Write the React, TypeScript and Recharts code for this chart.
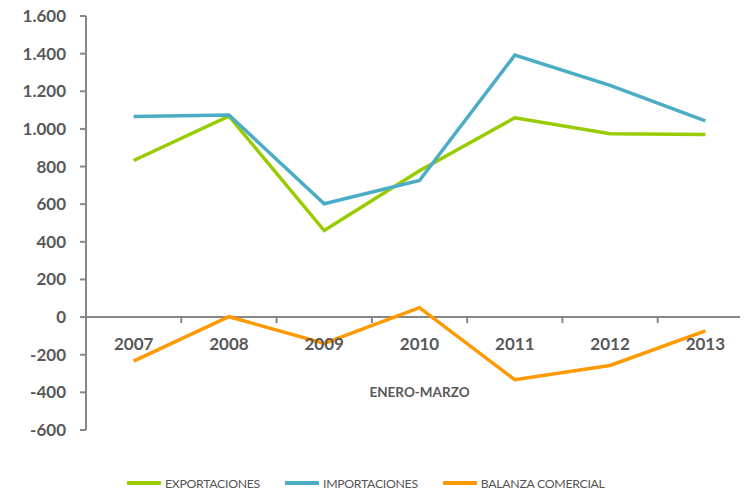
import React from 'react';
import { LineChart, Line, XAxis, YAxis, ReferenceLine, Label, LabelList, Legend } from 'recharts';

const years = ['2007', '2008', '2009', '2010', '2011', '2012', '2013'];
const exportaciones = [832, 1068, 460, 778, 1059, 974, 970];
const importaciones = [1066, 1074, 602, 726, 1392, 1231, 1043];
const balanza = [-234, 2, -140, 50, -333, -257, -73];
const yTicks = [-600, -400, -200, 0, 200, 400, 600, 800, 1000, 1200, 1400, 1600];
const seriesNames = ['EXPORTACIONES', 'IMPORTACIONES', 'BALANZA COMERCIAL'];
const seriesColors = ['#99CC00', '#4BACC6', '#FF9900'];
const axisTitle = 'ENERO-MARZO';
const axisBase = years.map(() => 0); // anchors for the category labels on the zero line

const data = years.map((y, i) => ({
  year: y,
  exp: exportaciones[i],
  imp: importaciones[i],
  bal: balanza[i],
  base: axisBase[i],
}));

const CHART_W = 745;
const CHART_H = 482;
const Y_W = 78;
const MARGIN = { top: 8, right: 0, left: 0, bottom: 40 };
const BAND = (CHART_W - Y_W - MARGIN.left - MARGIN.right) / years.length;
const GRAY = '#868686';
const TEXT = '#595959';
const FONT = 'Lato, "Open Sans", sans-serif';

const fmt = (v: number) => {
  const s = Math.abs(v).toString().replace(/\B(?=(\d{3})+(?!\d))/g, '.');
  return (v < 0 ? '-' : '') + s;
};

const YearLabel = (props: any) => {
  const { x, y, value, index } = props;
  return (
    <g>
      {index > 0 && (
        <line x1={x - BAND / 2} x2={x - BAND / 2} y1={y} y2={y + 6} stroke={GRAY} strokeWidth={2} />
      )}
      <text x={x} y={y + 32.5} textAnchor="middle" fill={TEXT} fontFamily={FONT} fontWeight={700} fontSize={17}>
        {value}
      </text>
    </g>
  );
};

const LegendContent = () => (
  <div
    style={{
      display: 'flex',
      alignItems: 'center',
      height: 20,
      paddingLeft: 119,
      fontFamily: FONT,
      fontSize: 12.3,
      letterSpacing: -0.3,
      color: '#555555',
      whiteSpace: 'nowrap',
    }}
  >
    {seriesNames.map((n, i) => (
      <div key={n} style={{ display: 'flex', alignItems: 'center', marginRight: 25 }}>
        <svg width={34} height={6} style={{ marginRight: 4 }}>
          <line x1={1} x2={33} y1={3} y2={3} stroke={seriesColors[i]} strokeWidth={4} strokeLinecap="round" />
        </svg>
        <span>{n}</span>
      </div>
    ))}
  </div>
);

export default function App() {
  return (
    <div style={{ width: 740, height: CHART_H, overflow: 'hidden' }}>
      <LineChart width={CHART_W} height={CHART_H} data={data} margin={MARGIN}>
        <XAxis dataKey="year" hide scale="band" />
        <YAxis
          width={Y_W}
          domain={[-600, 1600]}
          ticks={yTicks}
          interval={0}
          tickFormatter={fmt}
          axisLine={{ stroke: GRAY, strokeWidth: 2 }}
          tickLine={{ stroke: GRAY, strokeWidth: 2 }}
          tickSize={6}
          tickMargin={14}
          tick={{ fill: TEXT, fontFamily: FONT, fontWeight: 700, fontSize: 17 }}
        />
        <ReferenceLine y={0} stroke={GRAY} strokeWidth={2}>
          <Label
            value={axisTitle}
            position="bottom"
            offset={70}
            fill={TEXT}
            fontFamily={FONT}
            fontWeight={700}
            fontSize={13.5}
          />
        </ReferenceLine>
        <Line dataKey="base" stroke="none" dot={false} activeDot={false} legendType="none" isAnimationActive={false}>
          <LabelList dataKey="year" content={YearLabel} />
        </Line>
        <Line dataKey="exp" name={seriesNames[0]} stroke={seriesColors[0]} strokeWidth={3.5} dot={false} isAnimationActive={false} />
        <Line dataKey="imp" name={seriesNames[1]} stroke={seriesColors[1]} strokeWidth={3.5} dot={false} isAnimationActive={false} />
        <Line dataKey="bal" name={seriesNames[2]} stroke={seriesColors[2]} strokeWidth={3.5} dot={false} isAnimationActive={false} />
        <Legend verticalAlign="bottom" content={LegendContent} wrapperStyle={{ bottom: -3, left: 0 }} />
      </LineChart>
    </div>
  );
}
